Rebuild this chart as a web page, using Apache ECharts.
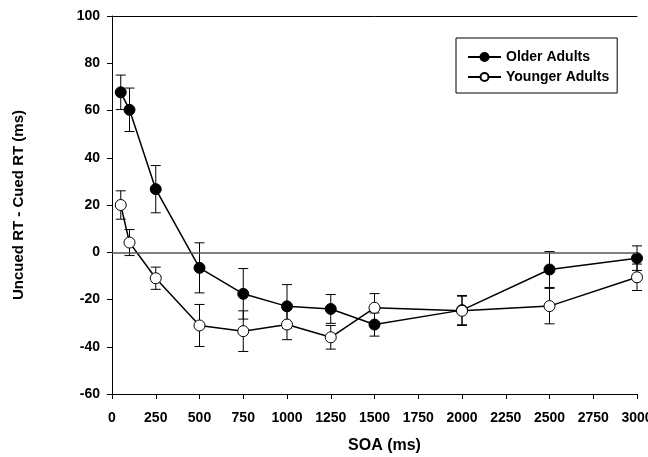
<!DOCTYPE html>
<html>
<head>
<meta charset="utf-8">
<script src="https://cdn.jsdelivr.net/npm/echarts@6/dist/echarts.min.js"></script>
<style>html,body{margin:0;padding:0;background:#fff;}#c{width:648px;height:457px;}</style>
</head>
<body>
<div id="c"></div>
<script>
const soa = [50, 100, 250, 500, 750, 1000, 1250, 1500, 2000, 2500, 3000];
const older = [67.7, 60.3, 26.7, -6.6, -17.6, -22.9, -24.0, -30.6, -24.5, -7.3, -2.5];
const olderErr = [7.3, 9.2, 10.0, 10.6, 10.7, 9.2, 6.1, 4.9, 6.2, 7.6, 5.2];
const younger = [20.0, 4.1, -11.0, -31.0, -33.4, -30.6, -36.0, -23.5, -24.8, -22.8, -10.6];
const youngerErr = [6.0, 5.5, 4.7, 8.9, 8.6, 6.4, 5.0, 6.0, 6.2, 7.5, 5.6];
const xTicks = [0, 250, 500, 750, 1000, 1250, 1500, 1750, 2000, 2250, 2500, 2750, 3000];
const yTicks = [-60, -40, -20, 0, 20, 40, 60, 80, 100];

const font = '"Liberation Sans", Arial, sans-serif';
function errData(vals, errs) {
  return soa.map((x, i) => [x, vals[i] - errs[i], vals[i] + errs[i]]);
}
function errRender(params, api) {
  const x = api.value(0);
  const lo = api.coord([x, api.value(1)]);
  const hi = api.coord([x, api.value(2)]);
  const w = 5;
  const st = { stroke: '#000', lineWidth: 1 };
  return {
    type: 'group',
    children: [
      { type: 'line', shape: { x1: lo[0], y1: lo[1], x2: hi[0], y2: hi[1] }, style: st },
      { type: 'line', shape: { x1: lo[0] - w, y1: lo[1], x2: lo[0] + w, y2: lo[1] }, style: st },
      { type: 'line', shape: { x1: hi[0] - w, y1: hi[1], x2: hi[0] + w, y2: hi[1] }, style: st }
    ]
  };
}
const chart = echarts.init(document.getElementById('c'));
chart.setOption({
  animation: false,
  backgroundColor: '#fff',
  grid: { left: 112, right: 11, top: 16, bottom: 63, outerBoundsMode: 'none', containLabel: false },
  legend: {
    orient: 'vertical',
    left: 456, top: 38,
    width: 166,
    borderColor: '#000', borderWidth: 1,
    padding: [12, 8, 9, 11],
    itemWidth: 33, itemHeight: 10, itemGap: 6,
    textStyle: { fontFamily: font, fontWeight: 'bold', fontSize: 14, color: '#000' },
    data: ['Older Adults', 'Younger Adults']
  },
  xAxis: [{
    type: 'value', min: 0, max: 3000, interval: 250,
    name: 'SOA (ms)', nameLocation: 'middle', nameGap: 44,
    nameTextStyle: { fontFamily: font, fontWeight: 'bold', fontSize: 16, color: '#000', padding: [0, 0, 0, 20] },
    axisLine: { onZero: false, lineStyle: { color: '#000', width: 1 } },
    axisTick: { show: true, length: 5, lineStyle: { color: '#000' } },
    axisLabel: { margin: 17, fontFamily: font, fontWeight: 'bold', fontSize: 14, color: '#000',
      formatter: v => (xTicks.indexOf(v) >= 0 ? String(v) : '') },
    splitLine: { show: false }
  }, {
    type: 'value', min: 0, max: 3000, position: 'top',
    axisLine: { show: true, onZero: false, lineStyle: { color: '#000', width: 1 } },
    axisTick: { show: false }, axisLabel: { show: false }, splitLine: { show: false }
  }],
  yAxis: {
    type: 'value', min: -60, max: 100, interval: 20,
    name: 'Uncued RT - Cued RT (ms)', nameLocation: 'middle', nameGap: 86,
    nameTextStyle: { fontFamily: font, fontWeight: 'bold', fontSize: 15, color: '#000' },
    axisLine: { show: true, onZero: false, lineStyle: { color: '#000', width: 1 } },
    axisTick: { show: true, length: 5, lineStyle: { color: '#000' } },
    axisLabel: { margin: 12, fontFamily: font, fontWeight: 'bold', fontSize: 14, color: '#000',
      formatter: v => (yTicks.indexOf(v) >= 0 ? String(v) : '') },
    splitLine: { show: false }
  },
  series: [
    {
      type: 'custom', name: 'olderErr', renderItem: errRender, data: errData(older, olderErr), z: 1, silent: true,
      encode: { x: 0, y: [1, 2] }
    },
    {
      type: 'custom', name: 'youngerErr', renderItem: errRender, data: errData(younger, youngerErr), z: 1, silent: true,
      encode: { x: 0, y: [1, 2] }
    },
    {
      name: 'Older Adults', type: 'line', z: 3,
      data: soa.map((x, i) => [x, older[i]]),
      symbol: 'circle', symbolSize: 11,
      lineStyle: { color: '#000', width: 1.5 },
      itemStyle: { color: '#000', borderColor: '#000', borderWidth: 1 },
      markLine: {
        silent: true, symbol: 'none', label: { show: false },
        lineStyle: { color: '#555', width: 1.5, type: 'solid' },
        data: [{ yAxis: 0 }]
      }
    },
    {
      name: 'Younger Adults', type: 'line', z: 4,
      data: soa.map((x, i) => [x, younger[i]]),
      symbol: 'circle', symbolSize: 11,
      lineStyle: { color: '#000', width: 1.5 },
      itemStyle: { color: '#fff', borderColor: '#000', borderWidth: 1 }
    }
  ]
});
</script>
</body>
</html>
